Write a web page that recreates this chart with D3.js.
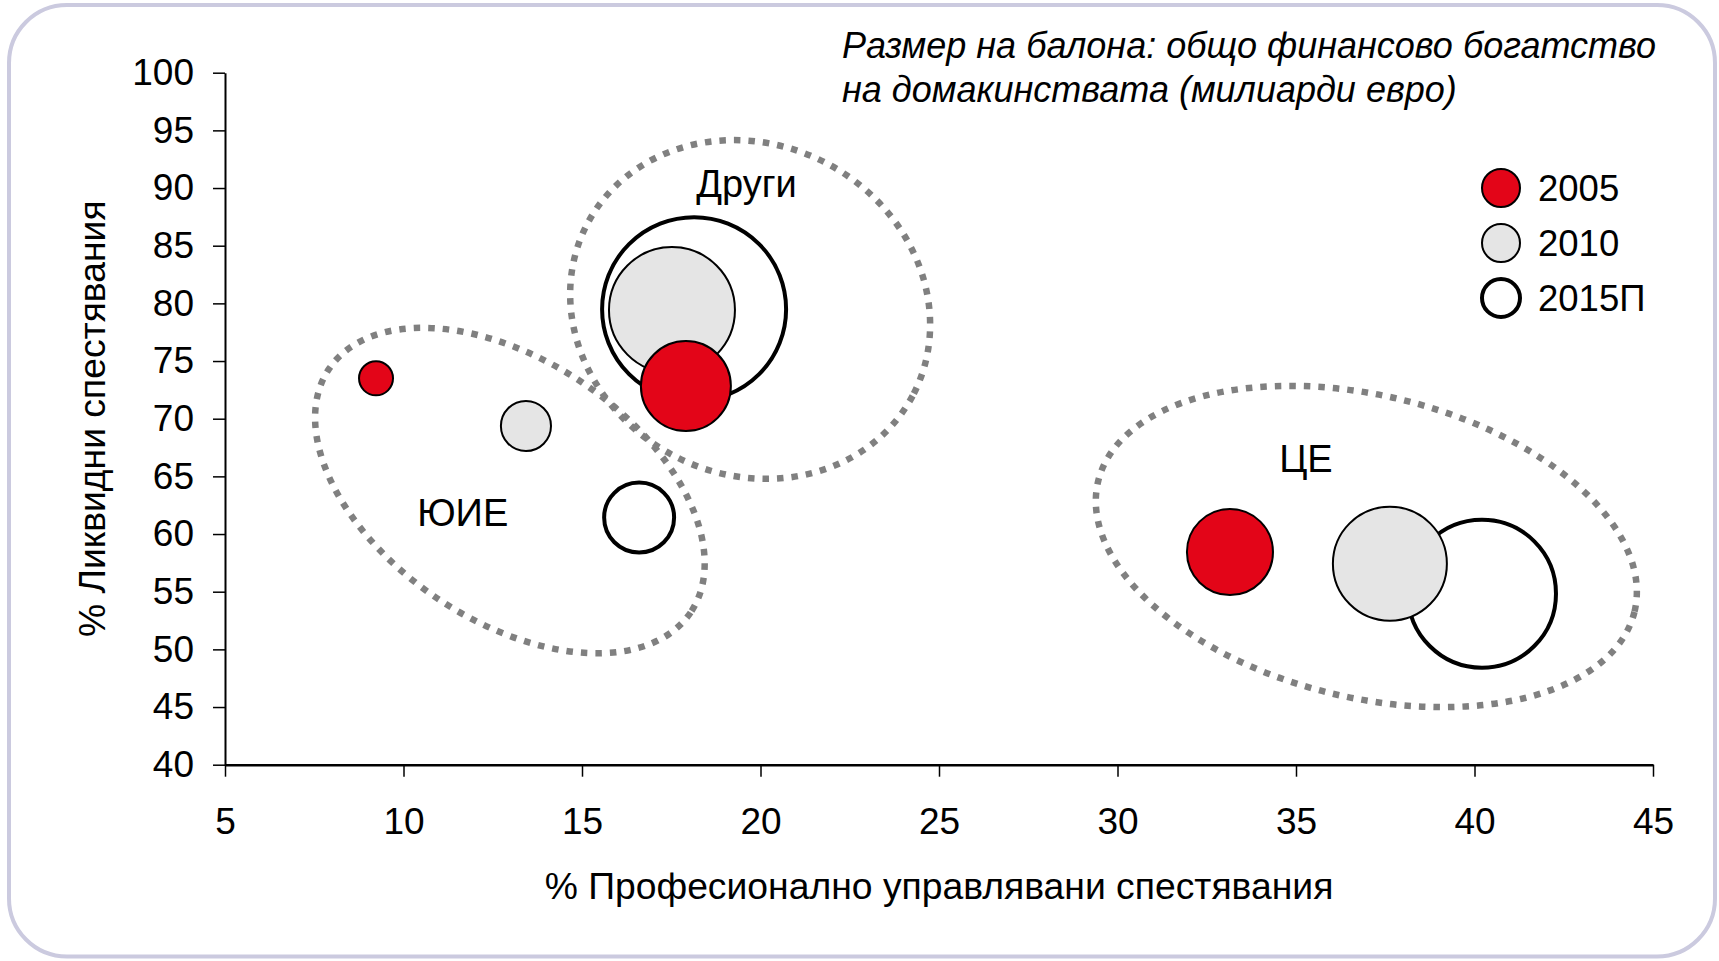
<!DOCTYPE html>
<html>
<head>
<meta charset="utf-8">
<script src="https://cdn.jsdelivr.net/npm/d3@7"></script>
<style>
  html, body { margin: 0; padding: 0; background: #fff; }
  svg { display: block; }
  text { font-family: "Liberation Sans", Arial, sans-serif; fill: #000; }
</style>
</head>
<body>
<svg id="chart" width="1719" height="961"></svg>
<script>
// ---- Data ----
const groups = ["ЮИЕ", "Други", "ЦЕ"];
const years = ["2005", "2010", "2015П"];
// x: % professionally managed savings, y: % liquid savings, size: household financial wealth (bn EUR)
const x2005 = [9.23, 17.91, 33.15];
const y2005 = [73.5, 72.83, 58.44];
const size2005 = [47, 329, 301];
const x2010 = [13.43, 17.52, 37.63];
const y2010 = [69.37, 79.42, 57.43];
const size2010 = [102, 645, 528];
const x2015 = [16.6, 18.14, 40.21];
const y2015 = [61.43, 79.5, 54.83];
const size2015 = [199, 1376, 890];
const xTicks = [5, 10, 15, 20, 25, 30, 35, 40, 45];
const yTicks = [40, 45, 50, 55, 60, 65, 70, 75, 80, 85, 90, 95, 100];
const xTitle = "% Професионално управлявани спестявания";
const yTitle = "% Ликвидни спестявания";
const noteLines = ["Размер на балона: общо финансово богатство", "на домакинствата (милиарди евро)"];

// ---- Styles ----
const fills = {"2005": "#E30518", "2010": "#E5E5E5", "2015П": "#FFFFFF"};
const strokeW = {"2005": 2, "2010": 2, "2015П": 4};

// ---- Layout ----
const svg = d3.select("#chart");
const X0 = 225, X1 = 1653, Y0 = 764.7, Y1 = 72.7;
const x = d3.scaleLinear().domain([5, 45]).range([X0, X1]);
const y = d3.scaleLinear().domain([40, 100]).range([Y0, Y1]);
const r = d3.scaleSqrt().domain([0, 1376]).range([0, 92]);

// Rounded frame
svg.append("rect")
  .attr("x", 9).attr("y", 5).attr("width", 1706).attr("height", 951.5)
  .attr("rx", 58).attr("ry", 58)
  .attr("fill", "none").attr("stroke", "#CBCADF").attr("stroke-width", 4);

// Group enclosures (annotation geometry: centre in data units, semi-axes in px, rotation in deg)
const enclosures = [
  {name: "ЮИЕ", cx: 12.98, cy: 63.77, a: 218, b: 130, rot: 34, lx: 11.66, ly: 60.7},
  {name: "Други", cx: 19.71, cy: 79.47, a: 184, b: 165, rot: 28, lx: 19.61, ly: 89.22},
  {name: "ЦЕ", cx: 36.97, cy: 58.92, a: 276, b: 151, rot: 13.7, lx: 35.28, ly: 65.38}
];
const encG = svg.append("g");
encG.selectAll("ellipse").data(enclosures).join("ellipse")
  .attr("cx", 0).attr("cy", 0)
  .attr("rx", d => d.a).attr("ry", d => d.b)
  .attr("transform", d => `translate(${x(d.cx)},${y(d.cy)}) rotate(${d.rot})`)
  .attr("fill", "none").attr("stroke", "#808080")
  .attr("stroke-width", 6.5).attr("stroke-dasharray", "6.5 8");
encG.selectAll("text").data(enclosures).join("text")
  .attr("x", d => x(d.lx)).attr("y", d => y(d.ly))
  .attr("text-anchor", "middle").attr("font-size", 38)
  .text(d => d.name);

// Axes
const xAxis = d3.axisBottom(x).tickValues(xTicks).tickSize(12).tickPadding(31).tickSizeOuter(0);
const gx = svg.append("g").attr("transform", `translate(0,${Y0})`).call(xAxis);
gx.select(".domain").attr("stroke", "#000").attr("stroke-width", 2.5);
gx.selectAll(".tick line").attr("stroke", "#000").attr("stroke-width", 1.5);
gx.selectAll(".tick text").attr("font-size", 37).attr("font-family", "Liberation Sans, Arial, sans-serif").attr("fill", "#000");

const yAxis = d3.axisLeft(y).tickValues(yTicks).tickSize(12).tickPadding(19).tickSizeOuter(0);
const gy = svg.append("g").attr("transform", `translate(${X0},0)`).call(yAxis);
gy.select(".domain").attr("stroke", "#000").attr("stroke-width", 2);
gy.selectAll(".tick line").attr("stroke", "#000").attr("stroke-width", 1.5);
gy.selectAll(".tick text").attr("font-size", 37).attr("font-family", "Liberation Sans, Arial, sans-serif").attr("fill", "#000");

// Axis titles
svg.append("text").attr("x", (X0 + X1) / 2).attr("y", 899)
  .attr("text-anchor", "middle").attr("font-size", 37.3).text(xTitle);
svg.append("text").attr("transform", `translate(105,${(Y0 + Y1) / 2}) rotate(-90)`)
  .attr("text-anchor", "middle").attr("font-size", 37.3).text(yTitle);

// Bubbles
const bubbles = [];
const series = [
  {year: "2015П", xs: x2015, ys: y2015, ss: size2015},
  {year: "2010", xs: x2010, ys: y2010, ss: size2010},
  {year: "2005", xs: x2005, ys: y2005, ss: size2005}
];
series.forEach(s => groups.forEach((g, i) => bubbles.push({group: g, year: s.year, x: s.xs[i], y: s.ys[i], size: s.ss[i]})));
svg.append("g").selectAll("circle").data(bubbles).join("circle")
  .attr("cx", d => x(d.x)).attr("cy", d => y(d.y)).attr("r", d => r(d.size))
  .attr("fill", d => fills[d.year]).attr("stroke", "#000")
  .attr("stroke-width", d => strokeW[d.year]);

// Legend
const legend = svg.append("g").attr("transform", "translate(1501,188)");
const li = legend.selectAll("g").data(years).join("g")
  .attr("transform", (d, i) => `translate(0,${i * 55})`);
li.append("circle").attr("r", 19).attr("fill", d => fills[d]).attr("stroke", "#000")
  .attr("stroke-width", d => d === "2015П" ? 4 : 2);
li.append("text").attr("x", 37).attr("y", 13).attr("font-size", 36.5).text(d => d);

// Note (italic)
const note = svg.append("text").attr("font-size", 36).attr("font-style", "italic");
note.selectAll("tspan").data(noteLines).join("tspan")
  .attr("x", 842).attr("y", (d, i) => 58 + i * 44).text(d => d);
</script>
</body>
</html>
